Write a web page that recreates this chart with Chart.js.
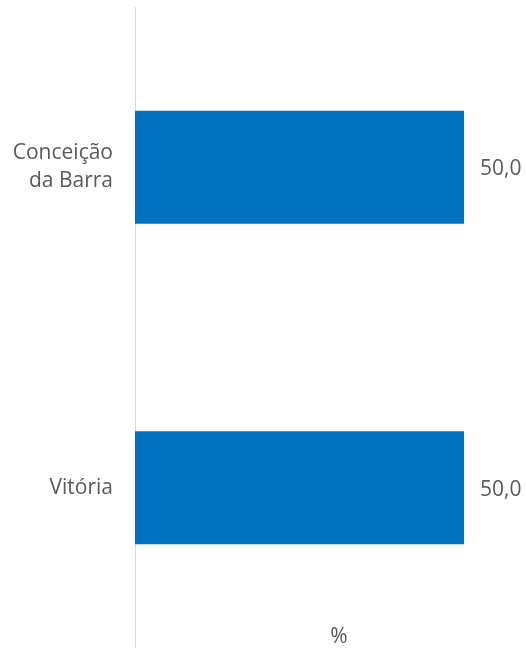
<!DOCTYPE html>
<html>
<head>
<meta charset="utf-8">
<script src="https://cdn.jsdelivr.net/npm/chart.js@4"></script>
<style>
  html, body { margin: 0; padding: 0; background: #fff; overflow: hidden; }
  #wrap { width: 526px; height: 648px; }
</style>
</head>
<body>
<div id="wrap"><canvas id="grafico"></canvas></div>
<script>
const categorias = [['Conceição', 'da Barra'], ['Vitória']];
const valores = [50.0, 50.0];
const tituloEixo = '%';

// rótulos de valor à direita das barras + título do eixo
const rotulos = {
    id: 'rotulos',
    afterDatasetsDraw(chart) {
        const ctx = chart.ctx;
        const meta = chart.getDatasetMeta(0);
        ctx.save();
        ctx.font = '21px "Open Sans"';
        ctx.fillStyle = '#595959';
        ctx.textBaseline = 'middle';
        ctx.textAlign = 'left';
        meta.data.forEach((bar, i) => {
            ctx.fillText(valores[i].toFixed(1).replace('.', ','), bar.x + 16, bar.y + 2);
        });
        ctx.textAlign = 'center';
        ctx.textBaseline = 'bottom';
        ctx.fillText(tituloEixo, chart.scales.x.getPixelForValue(31), chart.height);
        ctx.restore();
    }
};

const ctx = document.getElementById('grafico');
const grafico = new Chart(ctx, {
    type: 'bar',
    data: {
        labels: categorias,
        datasets: [{
            data: valores,
            backgroundColor: '#0070C0',
            borderWidth: 0,
            categoryPercentage: 1,
            barPercentage: 0.352
        }]
    },
    options: {
        indexAxis: 'y',
        responsive: true,
        maintainAspectRatio: false,
        animation: false,
        layout: {
            padding: { top: 7, right: 62, bottom: 0, left: 0 }
        },
        scales: {
            x: {
                min: 0,
                max: 50,
                display: false
            },
            y: {
                grid: { display: false, drawTicks: false },
                border: { display: true, color: '#d9d9d9', width: 1 },
                ticks: {
                    color: '#595959',
                    padding: 22,
                    font: { family: 'Open Sans', size: 21, lineHeight: 1.33 }
                },
                afterFit(scale) {
                    scale.width = 135;
                    scale.paddingTop = 0;
                    scale.paddingBottom = 0;
                }
            }
        },
        plugins: {
            legend: { display: false },
            tooltip: { enabled: false }
        }
    },
    plugins: [rotulos]
});
</script>
</body>
</html>
